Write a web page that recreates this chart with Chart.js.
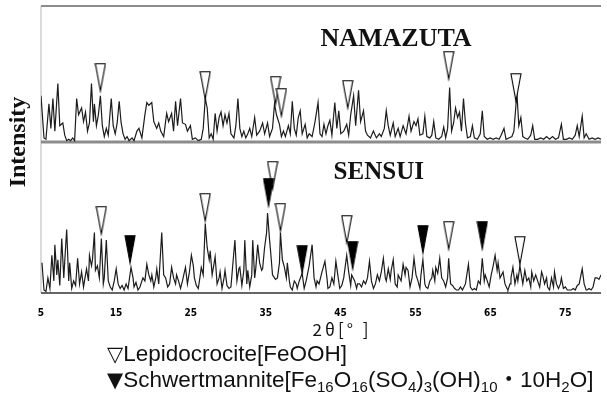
<!DOCTYPE html>
<html>
<head>
<meta charset="utf-8">
<script src="https://cdn.jsdelivr.net/npm/chart.js@4.4.1/dist/chart.umd.min.js"></script>
<style>
  html, body { margin: 0; padding: 0; background: #fff; }
  #wrap { position: relative; width: 607px; height: 399px; overflow: hidden; }
  #legend {
    position: absolute; left: 107px; top: 341px;
    font-family: "Liberation Sans", Arial, "Noto Sans CJK JP", sans-serif;
    font-size: 22.5px; line-height: 26px; color: #111; white-space: nowrap;
  }
  #legend .tri { font-family: "DejaVu Sans", sans-serif; font-size: 21px; }
  #legend sub { font-size: 15px; vertical-align: -5px; line-height: 0; }
</style>
</head>
<body>
<div id="wrap">
  <canvas id="xrd" width="607" height="399"></canvas>
  <div id="legend">
    <div><span class="tri">▽</span>Lepidocrocite[FeOOH]</div>
    <div><span class="tri">▼</span>Schwertmannite[Fe<sub>16</sub>O<sub>16</sub>(SO<sub>4</sub>)<sub>3</sub>(OH)<sub>10</sub>・10H<sub>2</sub>O]</div>
  </div>
</div>
<script>
// 2theta tick labels
const tickValues = [5, 15, 25, 35, 45, 55, 65, 75];

// NAMAZUTA pattern, [2theta, intensity] (upper panel, 0..100)
const namazutaPattern = [
  [5.00,34],[5.40,3],[5.66,2],[6.06,28],[6.32,10],[6.59,32],[6.85,8],[7.25,43],[7.51,12],[7.91,14],
  [8.17,5],[8.43,1],[8.70,2],[8.96,1],[9.23,3],[9.49,1],[9.76,32],[10.02,20],[10.42,25],[10.68,15],
  [10.94,22],[11.21,8],[11.47,14],[11.74,43],[12.00,15],[12.13,28],[12.40,12],[12.66,20],[12.93,34],[13.19,12],
  [13.45,4],[13.72,10],[13.98,5],[14.38,32],[14.64,12],[14.91,6],[15.17,14],[15.44,30],[15.70,14],[15.96,6],
  [16.23,2],[16.49,4],[16.76,1],[17.15,3],[17.42,1],[17.81,8],[18.08,10],[18.47,3],[18.87,20],[19.13,29],
  [19.40,27],[19.79,29],[20.06,15],[20.45,10],[20.72,14],[20.98,8],[21.38,4],[21.78,21],[22.04,15],[22.44,21],
  [22.70,8],[22.97,30],[23.23,12],[23.63,32],[23.89,14],[24.29,13],[24.55,8],[24.95,12],[25.21,2],[25.61,3],
  [26.00,1],[26.40,2],[26.66,10],[26.93,32],[27.19,25],[27.46,3],[27.72,6],[27.99,2],[28.25,21],[28.51,8],
  [28.78,18],[29.04,22],[29.31,12],[29.57,20],[29.83,14],[30.10,21],[30.36,6],[30.76,3],[31.02,12],[31.29,32],
  [31.55,10],[31.82,4],[32.08,8],[32.34,3],[32.61,6],[32.87,10],[33.14,4],[33.53,18],[33.80,5],[34.19,8],
  [34.59,14],[34.86,6],[35.25,14],[35.52,4],[35.91,10],[36.18,28],[36.44,20],[36.84,13],[37.10,4],[37.37,8],
  [37.63,4],[38.03,12],[38.29,6],[38.55,30],[38.82,10],[39.08,5],[39.35,18],[39.61,23],[39.87,6],[40.27,13],
  [40.54,3],[40.80,6],[41.20,4],[41.59,15],[41.99,29],[42.25,6],[42.52,4],[42.78,13],[43.05,6],[43.31,12],
  [43.57,16],[43.84,5],[44.23,29],[44.50,10],[44.76,23],[45.03,6],[45.42,8],[45.82,13],[46.08,5],[46.35,20],
  [46.74,34],[47.01,12],[47.40,38],[47.67,15],[48.06,23],[48.33,8],[48.59,5],[48.99,3],[49.38,8],[49.78,3],
  [50.18,6],[50.44,4],[50.84,10],[51.10,23],[51.36,12],[51.63,5],[52.03,14],[52.29,4],[52.69,10],[52.95,4],
  [53.35,12],[53.74,6],[54.14,19],[54.41,8],[54.80,15],[55.07,12],[55.33,17],[55.59,5],[55.99,6],[56.25,19],
  [56.52,4],[56.92,3],[57.18,5],[57.44,15],[57.71,3],[58.10,2],[58.50,4],[58.77,11],[59.03,3],[59.29,10],
  [59.56,40],[59.82,8],[60.09,14],[60.35,25],[60.62,18],[60.88,22],[61.14,8],[61.41,32],[61.67,14],[61.94,3],
  [62.33,4],[62.60,12],[62.86,3],[63.26,2],[63.65,6],[63.92,23],[64.18,4],[64.58,2],[64.97,3],[65.37,2],
  [65.77,3],[66.16,2],[66.43,5],[66.82,10],[67.09,2],[67.48,3],[67.88,4],[68.14,8],[68.54,36],[68.80,12],
  [69.07,18],[69.33,4],[69.60,3],[69.99,2],[70.39,5],[70.65,12],[70.92,2],[71.31,2],[71.71,3],[72.11,2],
  [72.50,4],[72.90,2],[73.30,4],[73.69,2],[74.09,3],[74.48,13],[74.75,2],[75.15,2],[75.54,3],[75.94,2],
  [76.33,5],[76.60,12],[76.86,4],[77.26,19],[77.52,3],[77.79,6],[78.18,2],[78.58,3],[78.98,2],[79.37,3],
  [79.77,2]
];

// SENSUI pattern, [2theta, intensity] (lower panel, 0..100)
const sensuiPattern = [
  [5.13,20],[5.40,2],[5.66,1],[5.92,10],[6.19,3],[6.45,25],[6.72,8],[6.85,32],[7.11,12],[7.25,22],
  [7.51,5],[7.77,36],[8.04,10],[8.17,21],[8.43,42],[8.70,8],[8.83,20],[9.10,3],[9.36,8],[9.62,5],
  [9.89,23],[10.15,6],[10.42,14],[10.68,4],[10.94,12],[11.08,16],[11.34,8],[11.47,25],[11.74,18],[11.87,22],
  [12.13,40],[12.27,15],[12.53,18],[12.79,10],[13.06,36],[13.32,6],[13.45,10],[13.72,35],[13.98,8],[14.25,4],
  [14.51,2],[14.78,8],[15.04,16],[15.30,6],[15.57,3],[15.83,5],[16.10,2],[16.36,6],[16.62,3],[17.02,17],
  [17.29,10],[17.42,4],[17.68,7],[17.95,2],[18.21,4],[18.61,10],[18.87,8],[19.13,19],[19.40,12],[19.66,8],
  [19.80,12],[20.06,4],[20.32,10],[20.46,16],[20.72,6],[20.98,28],[21.12,40],[21.38,12],[21.64,10],[21.91,4],
  [22.17,6],[22.44,17],[22.70,10],[22.97,6],[23.10,12],[23.36,8],[23.63,3],[23.89,8],[24.15,14],[24.29,17],
  [24.55,6],[24.82,14],[25.08,25],[25.34,18],[25.48,10],[25.74,5],[26.00,3],[26.27,12],[26.40,17],[26.66,12],
  [26.93,46],[27.19,30],[27.46,22],[27.59,28],[27.85,12],[28.12,20],[28.25,24],[28.51,6],[28.78,10],[28.91,14],
  [29.17,3],[29.44,10],[29.57,15],[29.83,5],[30.10,3],[30.36,4],[30.63,20],[30.89,35],[31.16,8],[31.42,16],
  [31.55,17],[31.82,5],[32.08,15],[32.21,35],[32.48,6],[32.61,15],[32.87,4],[33.14,12],[33.27,35],[33.53,10],
  [33.67,16],[33.93,32],[34.19,20],[34.46,15],[34.59,16],[34.85,30],[35.12,40],[35.25,53],[35.52,35],[35.65,28],
  [35.91,12],[36.04,11],[36.31,9],[36.57,10],[36.84,20],[36.97,40],[37.23,22],[37.50,17],[37.76,10],[37.89,20],
  [38.16,8],[38.29,4],[38.55,2],[38.82,8],[39.08,6],[39.21,3],[39.48,8],[39.87,13],[40.14,3],[40.40,8],
  [40.80,18],[41.20,32],[41.46,10],[41.72,4],[41.86,8],[42.12,6],[42.52,14],[42.91,21],[43.18,10],[43.31,3],
  [43.57,4],[43.84,10],[44.10,6],[44.37,21],[44.63,12],[44.89,3],[45.16,5],[45.42,10],[45.82,25],[46.08,14],
  [46.35,5],[46.48,12],[46.88,8],[47.14,3],[47.27,6],[47.54,6],[47.80,4],[48.06,8],[48.33,6],[48.59,10],
  [48.86,21],[49.12,8],[49.39,3],[49.65,6],[49.91,12],[50.18,8],[50.44,14],[50.71,23],[50.97,10],[51.10,8],
  [51.37,16],[51.63,9],[51.76,15],[52.03,22],[52.29,6],[52.56,4],[52.69,12],[53.08,8],[53.35,19],[53.61,12],
  [53.74,17],[54.01,15],[54.27,4],[54.54,10],[54.80,23],[55.07,12],[55.33,8],[55.59,3],[55.73,12],[55.99,22],
  [56.25,6],[56.39,4],[56.65,3],[56.92,8],[57.18,10],[57.31,15],[57.58,8],[57.71,17],[57.97,13],[58.24,23],
  [58.50,10],[58.76,8],[59.03,4],[59.29,10],[59.43,23],[59.69,6],[59.95,5],[60.22,3],[60.48,2],[60.75,2],
  [61.01,4],[61.27,2],[61.67,6],[62.07,19],[62.33,4],[62.60,2],[62.86,3],[63.12,2],[63.39,8],[63.65,6],
  [63.92,23],[64.18,8],[64.31,12],[64.58,8],[64.84,4],[65.11,12],[65.37,18],[65.63,25],[65.90,15],[66.03,20],
  [66.29,10],[66.69,14],[66.95,6],[67.22,3],[67.35,2],[67.62,6],[67.75,10],[68.01,17],[68.28,6],[68.54,12],
  [68.67,8],[68.94,18],[69.20,10],[69.33,6],[69.60,15],[69.86,8],[70.13,10],[70.39,4],[70.52,14],[70.79,8],
  [71.05,12],[71.31,8],[71.58,4],[71.84,14],[71.97,12],[72.24,6],[72.50,10],[72.64,4],[72.90,2],[73.16,10],
  [73.43,4],[73.56,14],[73.82,6],[74.09,3],[74.35,6],[74.48,10],[74.75,3],[75.01,4],[75.28,2],[75.54,2],
  [75.81,2],[76.07,3],[76.33,2],[76.60,5],[76.86,6],[77.26,16],[77.52,6],[77.79,2],[77.92,2],[78.18,3],
  [78.45,2],[78.71,4],[78.98,10],[79.24,10],[79.50,9],[79.77,12]
];

// peak marks: 2theta and the height where the triangle tip sits
const namazutaLepidoTheta = [12.93, 26.93, 36.31, 37.10, 45.95, 59.43, 68.41];
const namazutaLepidoTip   = [37.5, 31.6, 27.9, 19.1, 25.0, 46.3, 30.1];
const sensuiLepidoTheta   = [13.06, 26.93, 35.91, 36.97, 45.82, 59.43, 68.94];
const sensuiLepidoTip     = [39.1, 47.7, 68.9, 41.1, 33.1, 29.1, 19.2];
const sensuiSchwertTheta  = [16.89, 35.38, 39.87, 46.61, 55.99, 63.92];
const sensuiSchwertTip    = [19.9, 57.6, 13.2, 15.9, 26.5, 29.1];

function toPoints(pattern) {
  return pattern.map(p => ({x: p[0], y: p[1]}));
}
function marks(thetas, tips) {
  return thetas.map((t, i) => ({x: t, y: tips[i]}));
}

// narrow downward triangle, tip at the centre of the canvas
function triangle(filled) {
  const c = document.createElement('canvas');
  c.width = 12; c.height = 56;
  const g = c.getContext('2d');
  g.beginPath();
  g.moveTo(1, 0.8); g.lineTo(11, 0.8); g.lineTo(6, 28); g.closePath();
  g.fillStyle = filled ? '#000' : '#fff';
  g.fill();
  g.strokeStyle = '#000';
  g.lineWidth = 1.1;
  g.stroke();
  return c;
}
const openTri = triangle(false);
const solidTri = triangle(true);

const frameAndText = {
  id: 'frameAndText',
  beforeDatasetsDraw(chart) {
    const {ctx, chartArea: a, scales: {yTop, yBottom}} = chart;
    const mid = yTop.getPixelForValue(0);
    const base = yBottom.getPixelForValue(0);
    ctx.save();
    ctx.strokeStyle = '#cfcfcf'; ctx.lineWidth = 1.5;
    ctx.beginPath(); ctx.moveTo(a.left, a.top); ctx.lineTo(a.left, base); ctx.stroke();
    ctx.strokeStyle = '#8c8c8c'; ctx.lineWidth = 2;
    ctx.beginPath(); ctx.moveTo(a.left, a.top); ctx.lineTo(a.right, a.top); ctx.stroke();
    ctx.lineWidth = 3;
    ctx.beginPath(); ctx.moveTo(a.left, mid); ctx.lineTo(a.right, mid); ctx.stroke();
    ctx.strokeStyle = '#333'; ctx.lineWidth = 1.5;
    ctx.beginPath(); ctx.moveTo(a.left, base); ctx.lineTo(a.right, base); ctx.stroke();
    ctx.restore();
  },
  afterDraw(chart) {
    const {ctx, chartArea: a, scales: {x, yTop, yBottom}} = chart;
    ctx.save();
    ctx.fillStyle = '#111';
    ctx.textAlign = 'center';
    ctx.textBaseline = 'alphabetic';
    ctx.font = 'bold 26px "Liberation Serif", "DejaVu Serif", serif';
    ctx.fillText('NAMAZUTA', x.getPixelForValue(52.4), yTop.getPixelForValue(70.6));
    ctx.font = 'bold 25px "Liberation Serif", "DejaVu Serif", serif';
    ctx.fillText('SENSUI', x.getPixelForValue(50.1), yBottom.getPixelForValue(75.5));

    // x axis title
    ctx.font = '17px "Noto Sans CJK JP", sans-serif';
    ctx.textBaseline = 'middle';
    ctx.letterSpacing = '3px';
    ctx.fillText('2θ[° ]', x.getPixelForValue(45.2), a.bottom + 37);
    ctx.letterSpacing = '0px';

    ctx.translate(a.left - 22, yTop.getPixelForValue(0));
    ctx.rotate(-Math.PI / 2);
    ctx.font = 'bold 24px "Liberation Serif", "DejaVu Serif", serif';
    ctx.fillText('Intensity', 0, 0);
    ctx.restore();
  }
};

const traceStyle = {showLine: true, pointRadius: 0, borderColor: '#1c1c1c', borderWidth: 1.2, tension: 0, order: 3};

new Chart(document.getElementById('xrd'), {
  type: 'scatter',
  data: {
    datasets: [
      Object.assign({label: 'NAMAZUTA', data: toPoints(namazutaPattern), yAxisID: 'yTop'}, traceStyle),
      Object.assign({label: 'SENSUI', data: toPoints(sensuiPattern), yAxisID: 'yBottom'}, traceStyle),
      {label: 'Lepidocrocite', data: marks(namazutaLepidoTheta, namazutaLepidoTip), yAxisID: 'yTop',
       pointStyle: openTri, pointRadius: 5, order: 2},
      {label: 'Lepidocrocite', data: marks(sensuiLepidoTheta, sensuiLepidoTip), yAxisID: 'yBottom',
       pointStyle: openTri, pointRadius: 5, order: 2},
      {label: 'Schwertmannite', data: marks(sensuiSchwertTheta, sensuiSchwertTip), yAxisID: 'yBottom',
       pointStyle: solidTri, pointRadius: 5, order: 1}
    ]
  },
  options: {
    responsive: false,
    animation: false,
    devicePixelRatio: 1,
    layout: {padding: {left: 41, top: 5, right: 0, bottom: 66}},
    plugins: {legend: {display: false}, tooltip: {enabled: false}},
    scales: {
      x: {
        type: 'linear', position: 'bottom', min: 5, max: 79.77,
        grid: {display: false, drawTicks: false},
        border: {display: false},
        afterBuildTicks: s => { s.ticks = tickValues.map(v => ({value: v})); },
        ticks: {
          padding: 14, color: '#000', autoSkip: false, maxRotation: 0,
          font: {family: '"Liberation Sans Narrow", "DejaVu Sans Condensed", sans-serif', size: 10, weight: 'bold'}
        }
      },
      yTop: {type: 'linear', position: 'left', stack: 'panels', stackWeight: 136, weight: 2, min: 0, max: 100, display: false},
      yBottom: {type: 'linear', position: 'left', stack: 'panels', stackWeight: 151, weight: 1, min: 0, max: 100, display: false}
    }
  },
  plugins: [frameAndText]
});
</script>
</body>
</html>
